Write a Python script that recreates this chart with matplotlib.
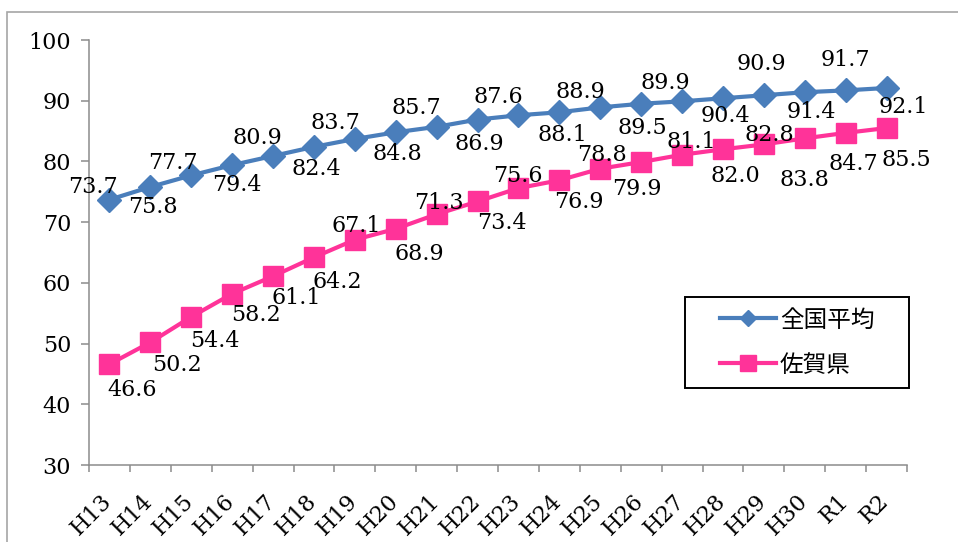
import matplotlib
matplotlib.use('Agg')
import matplotlib.pyplot as plt
from matplotlib.patches import Rectangle
import matplotlib.transforms as mtransforms

years = ['H13', 'H14', 'H15', 'H16', 'H17', 'H18', 'H19', 'H20', 'H21', 'H22',
         'H23', 'H24', 'H25', 'H26', 'H27', 'H28', 'H29', 'H30', 'R1', 'R2']
national = [73.7, 75.8, 77.7, 79.4, 80.9, 82.4, 83.7, 84.8, 85.7, 86.9,
            87.6, 88.1, 88.9, 89.5, 89.9, 90.4, 90.9, 91.4, 91.7, 92.1]
saga = [46.6, 50.2, 54.4, 58.2, 61.1, 64.2, 67.1, 68.9, 71.3, 73.4,
        75.6, 76.9, 78.8, 79.9, 81.1, 82.0, 82.8, 83.8, 84.7, 85.5]
series_names = ['全国平均', '佐賀県']
yticks = [30, 40, 50, 60, 70, 80, 90, 100]

# label offsets (pixels; dx right, dy down) - styling only
nat_off = [(-17, -15), (3, 18), (-18, -15), (5, 17), (-16, -20), (2, 20), (-19, -18),
           (2, 19), (-20, -21), (2, 22), (-20, -21), (3, 20), (-20, -18), (1, 22),
           (-17, -21), (2, 15), (-2, -34), (7, 17), (0, -33), (17, 17)]
saga_off = [(23, 23), (27, 20), (24, 22), (24, 19), (23, 19), (23, 22), (1, -16),
            (24, 23), (2, -14), (24, 19), (-1, -15), (20, 19), (2, -16), (-4, 24),
            (9, -15), (12, 24), (6, -12), (0, 39), (8, 29), (20, 29)]

BLUE = '#4A7EBB'
PINK = '#FF3399'
GRAY = '#8C8C8C'
SERIF = 'DejaVu Serif'
CJK = ['Noto Sans CJK JP', 'DejaVu Sans']

W, H = 958, 542
fig = plt.figure(figsize=(W / 100, H / 100), dpi=100)
ax = fig.add_axes([89 / W, 1 - 465 / H, 818 / W, 425 / H])

x = list(range(len(years)))
l1, = ax.plot(x, national, color=BLUE, lw=3, marker='D', ms=12, label=series_names[0], zorder=3)
l2, = ax.plot(x, saga, color=PINK, lw=3, marker='s', ms=14, label=series_names[1], zorder=3)

for vals, offs in ((national, nat_off), (saga, saga_off)):
    for i, (v, (dx, dy)) in enumerate(zip(vals, offs)):
        ax.annotate(f'{v:.1f}', (i, v), xytext=(dx, -dy), textcoords='offset pixels',
                    ha='center', va='center_baseline', fontsize=16, family=SERIF,
                    color='black', zorder=4, annotation_clip=False)

ax.set_xlim(-0.5, len(years) - 0.5)
ax.set_ylim(30, 100)
ax.set_yticks(yticks)
ax.set_yticklabels([str(t) for t in yticks], fontsize=16, family=SERIF)
ax.set_xticks(x)
ax.set_xticklabels(years, fontsize=16, family=SERIF, rotation=45, ha='right', va='top')
ax.set_xticks([i - 0.5 for i in range(len(years) + 1)], minor=True)
ax.tick_params(axis='x', which='major', length=0, pad=18)
ax.tick_params(axis='x', which='minor', length=5, width=1.1, color=GRAY, direction='out')
ax.tick_params(axis='y', length=5.8, width=1.1, color=GRAY, pad=7)
off = mtransforms.ScaledTranslation(7 / 100, 0, fig.dpi_scale_trans)
for lbl in ax.get_xticklabels():
    lbl.set_transform(lbl.get_transform() + off)

for s in ('top', 'right'):
    ax.spines[s].set_visible(False)
for s in ('left', 'bottom'):
    ax.spines[s].set_color(GRAY)
    ax.spines[s].set_linewidth(1.1)

leg = ax.legend(handles=[l1, l2], loc='center', bbox_to_anchor=(0.8655, 0.288),
                frameon=False, prop={'family': CJK, 'size': 17},
                handlelength=2.4, handletextpad=0.15, labelspacing=0.93)
leg.legend_handles[0].set_markersize(8)
leg.legend_handles[1].set_markersize(11)
ax.add_patch(Rectangle((0.7286, 0.181), 0.2741, 0.214, transform=ax.transAxes,
                       fill=False, ec='black', lw=1.4, clip_on=False, zorder=5))

fig.add_artist(Rectangle((7 / W, -0.5), 2, 0.5 + 1 - 12 / H, transform=fig.transFigure,
                         fill=False, ec='#A6A6A6', lw=1.2))

fig.savefig('out.png', dpi=100)
